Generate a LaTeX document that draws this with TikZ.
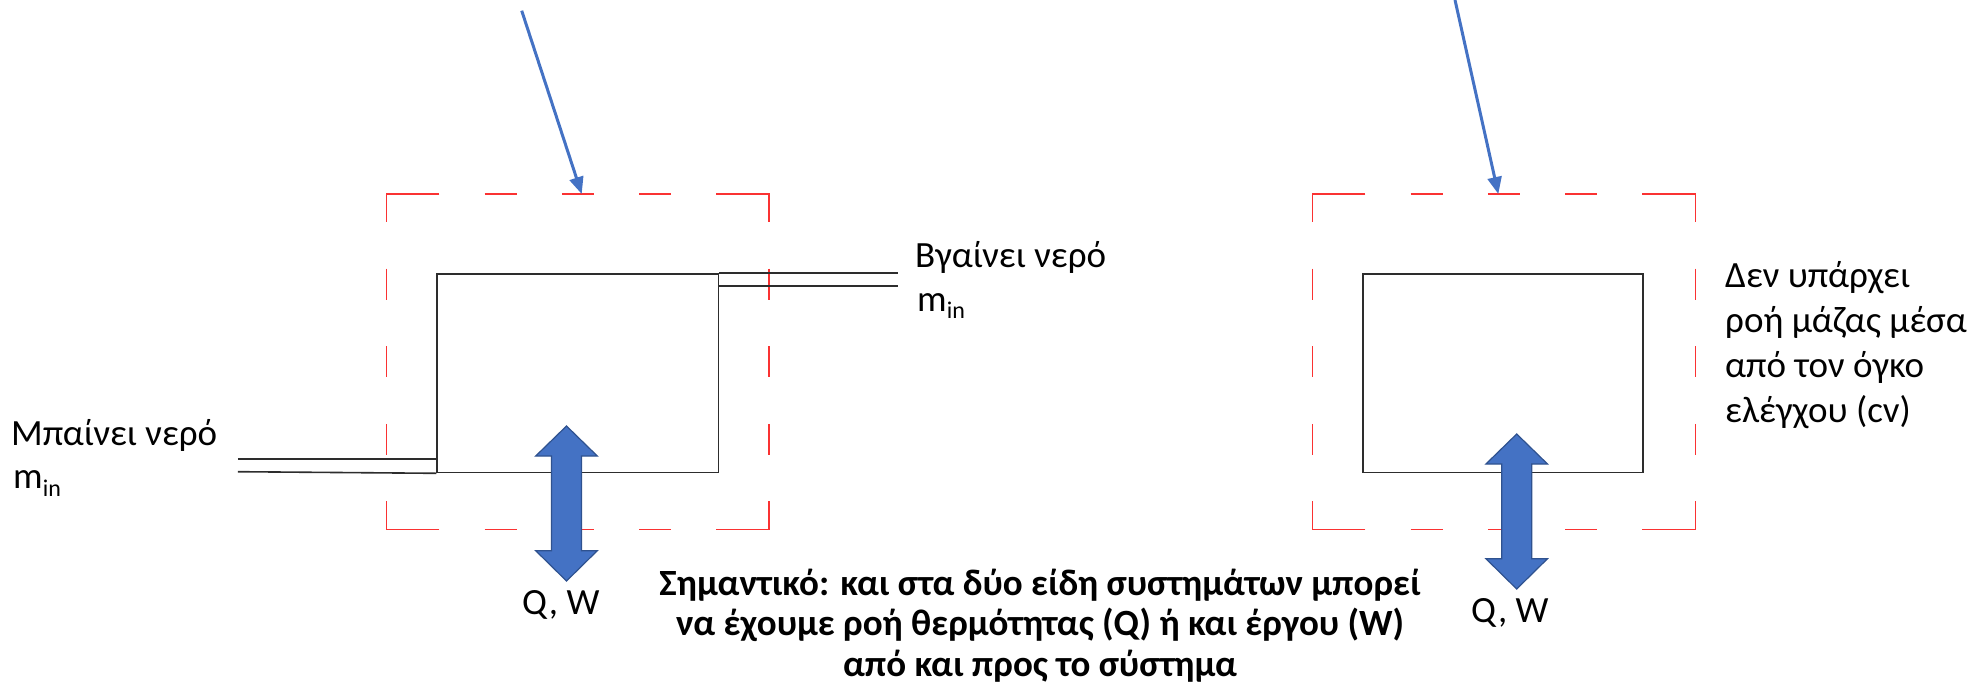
\documentclass[tikz,border=0pt]{standalone}
\usepackage{fontspec}
\setmainfont{Carlito}
\usetikzlibrary{arrows.meta}

\definecolor{flowblue}{HTML}{4472C4}
\definecolor{flowedge}{HTML}{2F528F}
\definecolor{cvred}{RGB}{250,50,50}
\definecolor{wall}{RGB}{45,45,45}

\tikzset{
  wallline/.style={draw=wall, line width=1.6pt},
  cvline/.style={draw=cvred, line width=1.5pt},
  vessel/.style={wallline, rectangle, inner sep=0pt, anchor=north west},
  plaintext/.style={inner sep=0pt, font=\fontsize{37}{45}\selectfont, align=left},
  note/.style={inner sep=0pt, font=\bfseries\fontsize{37}{40.5}\selectfont, align=center},
  pointer/.style={draw=flowblue, line width=3pt, -{Triangle[length=17pt,width=14pt]}, fill=flowblue},
  qwfill/.style={fill=flowblue, draw=flowedge, line width=1.2pt, line join=miter},
  pics/qwarrow/.style={code={
    \path[qwfill] (0,0) -- (30.8,30) -- (15,30) -- (15,124.7) -- (30.8,124.7)
      -- (0,155) -- (-30.8,124.7) -- (-15,124.7) -- (-15,30) -- (-30.8,30) -- cycle;
  }},
}

% dashed control-volume frame: solid corner brackets, three dashes per side
\newcommand\cvframe[4]{%
  \draw[cvline] (#1+53,#2) -- (#1,#2) -- (#1,#2+28);
  \draw[cvline] (#3-53,#2) -- (#3,#2) -- (#3,#2+28);
  \draw[cvline] (#1+53,#4) -- (#1,#4) -- (#1,#4-28);
  \draw[cvline] (#3-53,#4) -- (#3,#4) -- (#3,#4-28);
  \draw[cvline, dash pattern=on 32pt off 45.25pt] (#1+98.25,#2) -- (#3-98.25,#2);
  \draw[cvline, dash pattern=on 32pt off 45.25pt] (#1+98.25,#4) -- (#3-98.25,#4);
  \draw[cvline, dash pattern=on 31pt off 46.6pt] (#1,#2+74.6) -- (#1,#4-74.6);
  \draw[cvline, dash pattern=on 31pt off 46.6pt] (#3,#2+74.6) -- (#3,#4-74.6);
}

\begin{document}
\begin{tikzpicture}[x=1pt, y=-1pt]
  \useasboundingbox (0,0) rectangle (1985,693);

  % control volumes
  \cvframe{386.3}{194}{769}{529.3}
  \cvframe{1312.3}{194}{1695.3}{529.3}

  % vessels
  \node[vessel, minimum width=281.4pt, minimum height=198.7pt] (tankL) at (436.3,273) {};
  \node[vessel, minimum width=280.3pt, minimum height=198.7pt] (tankR) at (1362,273) {};

  % inlet pipe
  \coordinate (inTop) at (237.9,459);
  \coordinate (inBot) at (237.9,471.7);
  \draw[wallline] (inTop) -- (inTop -| tankL.west);
  \draw[wallline] (inBot) -- (tankL.south west);

  % outlet pipe
  \coordinate (outTop) at (898,273);
  \coordinate (outBot) at (898,285.7);
  \draw[wallline] (tankL.north east) -- (outTop);
  \draw[wallline] (outBot -| tankL.east) -- (outBot);

  % pointers to the control-volume boundaries
  \coordinate (srcL) at (521.7,10.7);
  \coordinate (cvLtop) at (581.7,194);
  \coordinate (srcR) at (1455,0);
  \coordinate (cvRtop) at (1498.3,194);
  \draw[pointer] (srcL) -- (cvLtop);
  \draw[pointer] (srcR) -- (cvRtop);

  % heat / work exchange arrows
  \pic at (566.5,426) {qwarrow};
  \pic at (1516.7,434) {qwarrow};

  % labels (multi-line nodes are anchored at the baseline of their last line)
  \node[plaintext, anchor=base west] (inText) at (11,445) {Μπαίνει νερό};
  \node[plaintext, anchor=base west] (inMass) at (13,488.3) {m\raisebox{-7.7pt}{\fontsize{24}{24}\selectfont in}};
  \node[plaintext, anchor=base west] (outText) at (915,267.7) {Βγαίνει νερό};
  \node[plaintext, anchor=base west] (outMass) at (917,311) {m\raisebox{-7.7pt}{\fontsize{24}{24}\selectfont in}};
  \node[plaintext, anchor=base west] (closedText) at (1725,422.7)
    {Δεν υπάρχει\\ροή μάζας μέσα\\από τον όγκο\\ελέγχου (cv)};
  \node[plaintext, anchor=base west] (qwL) at (522,614.5) {Q, W};
  \node[plaintext, anchor=base west] (qwR) at (1471,622) {Q, W};
  \node[note, anchor=base] (noteText) at (1040,676)
    {Σημαντικό: και στα δύο είδη συστημάτων μπορεί\\να έχουμε ροή θερμότητας (Q) ή και έργου (W)\\από και προς το σύστημα};
\end{tikzpicture}
\end{document}
